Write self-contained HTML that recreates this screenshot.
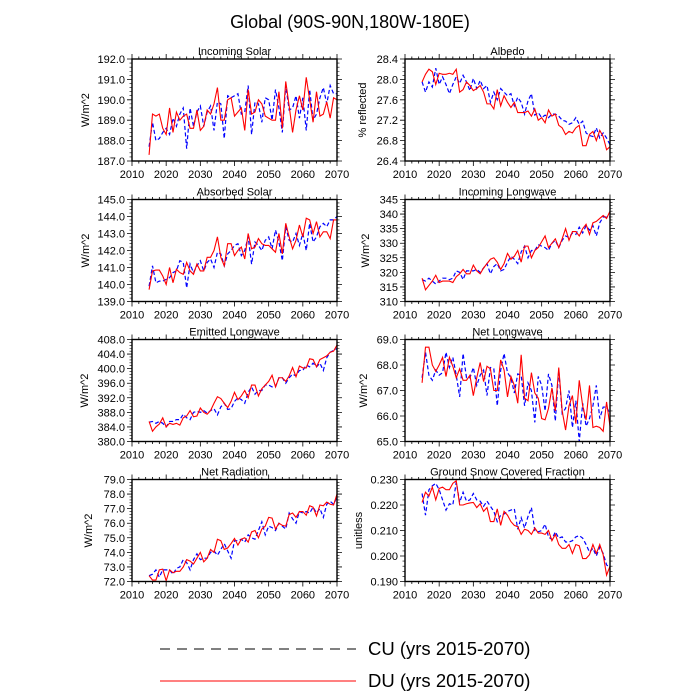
<!DOCTYPE html>
<html><head><meta charset="utf-8"><style>
html,body{margin:0;padding:0;background:#fff;}
svg{display:block;font-family:"Liberation Sans",Arial,sans-serif;}
</style></head><body>
<svg id="chart" width="700" height="700" viewBox="0 0 700 700" xmlns="http://www.w3.org/2000/svg">
<text x="350" y="28" text-anchor="middle" font-size="18">Global (90S-90N,180W-180E)</text>
<g>
<line x1="160" y1="649" x2="356" y2="649" stroke="#000" stroke-width="1" stroke-dasharray="10,7"/>
<text x="368" y="655" font-size="18.5">CU (yrs 2015-2070)</text>
<line x1="160" y1="681" x2="356" y2="681" stroke="#ff0000" stroke-width="1"/>
<text x="368" y="687" font-size="18.5">DU (yrs 2015-2070)</text>
</g>
</svg>
<script>
const years = [];
for (let y = 2015; y <= 2070; y++) years.push(y);
const xTicks = [2010,2020,2030,2040,2050,2060,2070];

const incomingSolarDU = [187.3,189.3,189.2,189.3,188.6,188.3,189.6,188.4,189.4,189.0,189.2,189.3,188.6,188.6,189.5,188.5,188.7,189.5,189.3,189.8,190.6,189.0,189.0,190.0,190.1,189.2,189.4,189.6,188.5,190.5,189.3,189.4,190.0,189.8,189.2,189.1,189.0,189.0,190.4,188.6,190.9,189.7,188.4,189.5,190.2,189.5,191.1,190.0,188.9,190.4,189.2,189.3,189.9,189.1,190.1,190.0];
const incomingSolarCU = [187.7,188.9,188.0,188.1,188.4,188.6,188.3,189.1,188.7,189.3,189.6,187.6,189.6,188.7,189.4,189.7,188.7,189.4,189.7,188.5,189.9,189.8,188.1,190.2,190.1,190.2,190.3,189.3,189.4,190.7,188.3,189.9,189.8,188.9,190.1,190.0,189.0,190.5,189.6,188.4,190.7,189.5,189.6,190.2,189.1,190.1,188.5,190.5,189.0,189.3,190.1,190.6,189.8,190.7,190.3,190.3];
const incomingSolarTicks = [187.0,188.0,189.0,190.0,191.0,192.0];

const albedoDU = [27.95,28.1,28.2,28.15,27.9,28.12,28.1,28.1,28.12,28.1,28.2,27.75,27.8,27.95,27.88,27.78,27.82,27.88,27.75,27.52,27.52,27.42,27.8,27.48,27.68,27.55,27.45,27.55,27.35,27.35,27.35,27.38,27.28,27.42,27.2,27.25,27.15,27.4,27.28,27.32,27.1,27.05,26.92,26.98,26.95,27.05,27.1,26.7,26.7,26.92,26.98,26.8,27.0,26.88,26.62,26.68];
const albedoCU = [27.95,27.75,27.95,27.85,28.22,27.9,28.05,27.9,27.72,27.9,28.05,27.92,28.08,27.95,27.78,28.02,27.82,27.98,27.82,27.88,27.55,27.75,27.6,27.82,27.75,27.68,27.72,27.48,27.65,27.55,27.32,27.58,27.72,27.3,27.35,27.25,27.3,27.25,27.32,27.32,27.28,27.2,27.18,27.12,27.15,27.25,27.12,27.18,26.95,26.9,26.88,27.05,26.85,26.95,26.85,26.72];
const albedoTicks = [26.4,26.8,27.2,27.6,28.0,28.4];

const absorbedSolarDU = [139.7,140.8,140.85,140.85,140.5,140.0,141.0,140.1,140.9,140.7,140.6,141.3,140.8,140.6,141.2,140.8,140.8,141.6,141.6,142.0,142.8,141.6,141.1,142.4,142.4,141.7,142.0,142.2,141.5,143.0,142.1,142.2,142.7,142.4,142.3,142.3,142.1,141.9,143.0,141.8,143.6,142.8,142.1,142.6,143.5,142.8,143.9,143.8,143.0,143.7,142.8,143.1,143.1,142.7,143.8,143.8];
const absorbedSolarCU = [139.9,141.1,140.1,140.2,140.2,140.3,140.4,140.7,140.8,141.4,141.3,139.8,141.2,140.7,141.1,141.4,140.8,141.3,141.5,141.0,141.9,141.8,141.1,141.8,142.0,142.3,142.4,141.7,142.0,142.8,141.2,142.5,142.3,142.0,142.6,142.8,142.1,143.2,142.5,141.4,143.4,142.6,142.5,143.0,142.3,143.0,142.0,143.6,142.5,142.8,143.4,143.6,143.4,143.8,143.8,144.0];
const absorbedSolarTicks = [139.0,140.0,141.0,142.0,143.0,144.0,145.0];

const incomingLongwaveDU = [318,314,315.5,317,319,316.5,317,317,317,316.5,318.5,319.5,321,319.5,319.5,322.5,320.5,319.5,321.5,323,324.5,325,323.5,321,323,326.5,324.5,325.5,327.5,323.5,329,329,325,327.5,328.5,330.5,332.5,328.5,330,331.5,328.5,331.5,335,331,334,334,332.5,335,336.5,333,337,337.5,338.5,339.5,338.5,341];
const incomingLongwaveCU = [317.5,317,318,317,316,317,318,318,317.5,318,320.5,320,317.5,320.5,320.5,320.5,321,320,321.5,323,319.5,322,323,320.5,321,323.5,325.5,324.5,323,327,329,325,327.5,327.5,329.5,329,328.5,327.5,330,331,328.5,331,332.5,332,333.5,333,335.5,333.5,336,334.5,336,332.5,337,339,339,339];
const incomingLongwaveTicks = [310,315,320,325,330,335,340,345];

const emittedLongwaveDU = [385.5,382.8,384,384.8,386.5,384,385,384.7,385,384.5,386.5,387,388.5,386.8,387,389.2,388,387.5,388.5,390.5,392.3,391.8,390.5,389.3,391,393.5,391.5,392.5,394,392,395.5,395.5,392.5,394.5,395.5,396.5,398.2,395,397.5,397.5,396.5,398,400.3,397.8,400.7,400.2,400.2,402.7,402.5,400.5,402.5,403,403.5,404.5,404.8,406.5];
const emittedLongwaveCU = [385.3,385.5,385,385.5,385,384,385.5,385.5,386,386,387.5,386.5,386,388,388.3,388,388.5,387.8,388.5,389,387.3,389.5,390.5,388.8,389,391,392,391.5,390.5,393.5,395,393,394,394,395.5,395.5,395,395,397.5,397.5,396,397.5,398.5,398,399.5,399.5,401,400.5,401.5,400.5,401.5,399.5,403,404.5,405,405.5];
const emittedLongwaveTicks = [380.0,384.0,388.0,392.0,396.0,400.0,404.0,408.0];

const netLongwaveDU = [67.3,68.7,68.7,68.0,67.75,68.0,68.3,67.55,68.3,67.95,67.5,67.85,67.4,67.4,67.6,66.8,67.5,68.1,67.35,67.95,67.85,67.0,67.0,68.2,67.8,66.75,67.55,67.2,66.5,68.4,66.7,66.6,67.7,66.9,66.7,65.9,65.85,66.3,67.1,66.2,67.9,66.2,65.45,66.4,66.8,65.7,67.4,66.4,65.85,67.2,65.55,65.6,65.55,65.4,66.55,65.6];
const netLongwaveCU = [67.5,68.5,67.6,67.4,67.8,67.6,67.7,68.5,67.9,68.3,67.6,66.75,68.45,67.5,67.5,67.9,67.2,67.6,67.8,66.8,67.9,67.85,66.4,67.8,68.45,67.7,67.5,66.9,67.65,67.6,66.4,67.3,67.0,65.75,67.55,67.2,66.2,67.65,67.2,65.8,67.8,66.1,66.3,67.0,65.55,66.6,65.0,66.5,65.6,65.9,66.4,67.2,65.9,66.35,66.35,66.1];
const netLongwaveTicks = [65.0,66.0,67.0,68.0,69.0];

const netRadiationDU = [72.4,72.1,72.1,72.8,72.85,72.05,72.8,72.6,72.7,72.7,73.0,73.5,73.4,73.2,73.6,74.0,73.35,73.6,74.2,74.0,74.9,74.8,74.2,74.3,74.6,74.95,74.5,74.9,75.0,74.7,75.4,75.5,75.0,75.6,75.8,76.4,76.35,75.6,76.0,75.85,75.8,76.6,76.7,76.4,76.8,76.8,76.55,77.2,77.1,76.5,77.25,77.2,77.45,77.3,77.25,78.0];
const netRadiationCU = [72.4,72.5,72.8,72.3,72.8,72.8,72.8,72.5,72.9,73.0,73.5,73.3,72.8,73.5,73.9,73.5,73.6,73.6,74.0,74.1,73.8,74.2,74.6,74.1,73.6,74.8,74.8,74.9,74.7,75.2,75.0,74.9,75.5,76.1,75.2,75.8,75.7,75.5,76.0,75.8,75.6,76.7,76.3,76.0,76.8,76.7,76.8,76.7,77.1,76.7,77.0,76.4,77.3,77.5,77.3,77.8];
const netRadiationTicks = [72.0,73.0,74.0,75.0,76.0,77.0,78.0,79.0];

const snowFractionDU = [0.221,0.225,0.2235,0.227,0.222,0.2265,0.227,0.226,0.226,0.2285,0.2295,0.220,0.220,0.2205,0.2208,0.221,0.219,0.2205,0.2175,0.219,0.2135,0.2135,0.2185,0.212,0.2175,0.216,0.2135,0.212,0.2115,0.2085,0.2105,0.210,0.2085,0.211,0.209,0.209,0.2085,0.210,0.206,0.2085,0.2045,0.203,0.203,0.2045,0.201,0.2045,0.204,0.199,0.199,0.2005,0.2045,0.201,0.2045,0.2005,0.1925,0.196];
const snowFractionCU = [0.2245,0.216,0.226,0.2275,0.2285,0.226,0.222,0.218,0.2205,0.220,0.229,0.221,0.225,0.2215,0.222,0.2245,0.222,0.2215,0.2195,0.2215,0.2195,0.2175,0.2135,0.216,0.2165,0.2175,0.218,0.2185,0.2105,0.215,0.211,0.2155,0.219,0.210,0.2095,0.210,0.2125,0.2075,0.2065,0.2095,0.207,0.2075,0.2055,0.2055,0.206,0.2075,0.208,0.207,0.2045,0.2015,0.203,0.200,0.2035,0.201,0.1965,0.1955];
const snowFractionTicks = [0.190,0.200,0.210,0.220,0.230];

const panels = [
 {name:'incoming-solar', title:'Incoming Solar', ytitle:'W/m^2', du:incomingSolarDU, cu:incomingSolarCU, ticks:incomingSolarTicks, dp:1, col:0, row:0, yt:85},
 {name:'albedo', title:'Albedo', ytitle:'% reflected', du:albedoDU, cu:albedoCU, ticks:albedoTicks, dp:1, col:1, row:0, yt:362},
 {name:'absorbed-solar', title:'Absorbed Solar', ytitle:'W/m^2', du:absorbedSolarDU, cu:absorbedSolarCU, ticks:absorbedSolarTicks, dp:1, col:0, row:1, yt:85},
 {name:'incoming-longwave', title:'Incoming Longwave', ytitle:'W/m^2', du:incomingLongwaveDU, cu:incomingLongwaveCU, ticks:incomingLongwaveTicks, dp:0, col:1, row:1, yt:365},
 {name:'emitted-longwave', title:'Emitted Longwave', ytitle:'W/m^2', du:emittedLongwaveDU, cu:emittedLongwaveCU, ticks:emittedLongwaveTicks, dp:1, col:0, row:2, yt:84},
 {name:'net-longwave', title:'Net Longwave', ytitle:'W/m^2', du:netLongwaveDU, cu:netLongwaveCU, ticks:netLongwaveTicks, dp:1, col:1, row:2, yt:363},
 {name:'net-radiation', title:'Net Radiation', ytitle:'W/m^2', du:netRadiationDU, cu:netRadiationCU, ticks:netRadiationTicks, dp:1, col:0, row:3, yt:88},
 {name:'snow-fraction', title:'Ground Snow Covered Fraction', ytitle:'unitless', du:snowFractionDU, cu:snowFractionCU, ticks:snowFractionTicks, dp:3, col:1, row:3, yt:358}
];

const NS = 'http://www.w3.org/2000/svg';
const svg = document.getElementById('chart');
const colX = [132, 405], W = 205;
const rowY = [59, 199.5, 339.5, 479.5], H = 102;

function mk(tag, attrs, parent) {
  const e = document.createElementNS(NS, tag);
  for (const k in attrs) e.setAttribute(k, attrs[k]);
  parent.appendChild(e);
  return e;
}

panels.forEach(p => {
  const L = colX[p.col], T = rowY[p.row], R = L + W, B = T + H;
  const y0 = p.ticks[0], y1 = p.ticks[p.ticks.length - 1];
  const sx = v => L + (v - 2010) / 60 * W;
  const sy = v => B - (v - y0) / (y1 - y0) * H;
  const g = mk('g', {}, svg);
  
  

  const t = mk('text', {x: (L + R) / 2, y: T - 4, 'text-anchor': 'middle', 'font-size': 11}, g);
  
  
  t.textContent = p.title;

  const yt = mk('text', {x: p.yt, y: (T + B) / 2, 'text-anchor': 'middle', 'font-size': 11, transform: 'rotate(-90 ' + p.yt + ' ' + ((T + B) / 2) + ')', dy: 4}, g);
  
  
  yt.textContent = p.ytitle;

  for (let yr = 2010; yr <= 2070; yr += 2) {
    const major = (yr % 10 === 0);
    const len = major ? 5 : 2.5;
    const x = sx(yr);
    const tk = mk('path', {d: 'M' + x + ' ' + B + 'v' + len + 'M' + x + ' ' + T + 'v' + (-len), stroke: '#000', 'stroke-width': 0.8}, g);
    
    
  }
  xTicks.forEach(yr => {
    const lb = mk('text', {x: sx(yr), y: B + 17, 'text-anchor': 'middle', 'font-size': 11}, g);
    
    
    lb.textContent = String(yr);
  });
  const step = p.ticks[1] - p.ticks[0];
  for (let i = 0; i < p.ticks.length; i++) {
    const v = p.ticks[i], y = sy(v);
    const tk = mk('path', {d: 'M' + L + ' ' + y + 'h-5M' + R + ' ' + y + 'h5', stroke: '#000', 'stroke-width': 0.8}, g);
    
    
    const lb = mk('text', {x: L - 7, y: y + 4, 'text-anchor': 'end', 'font-size': 11}, g);
    
    
    lb.textContent = v.toFixed(p.dp);
    if (i < p.ticks.length - 1) {
      for (let m = 1; m < 5; m++) {
        const ym = sy(v + step * m / 5);
        const mt = mk('path', {d: 'M' + L + ' ' + ym + 'h-2.5M' + R + ' ' + ym + 'h2.5', stroke: '#000', 'stroke-width': 0.6}, g);
        
        
      }
    }
  }
  const ptsCU = p.cu.map((v, i) => sx(years[i]).toFixed(2) + ',' + sy(v).toFixed(2)).join(' ');
  const ptsDU = p.du.map((v, i) => sx(years[i]).toFixed(2) + ',' + sy(v).toFixed(2)).join(' ');
  const lc = mk('polyline', {points: ptsCU, fill: 'none', stroke: '#0000ff', 'stroke-width': 1.2, 'stroke-dasharray': '4,2.5'}, g);
  
  
  const ld = mk('polyline', {points: ptsDU, fill: 'none', stroke: '#ff0000', 'stroke-width': 1.1}, g);
  
  
  const fr = mk('rect', {x: L, y: T, width: W, height: H, fill: 'none', stroke: '#000', 'stroke-width': 1.4}, g);
  
  
});
</script>
</body></html>
